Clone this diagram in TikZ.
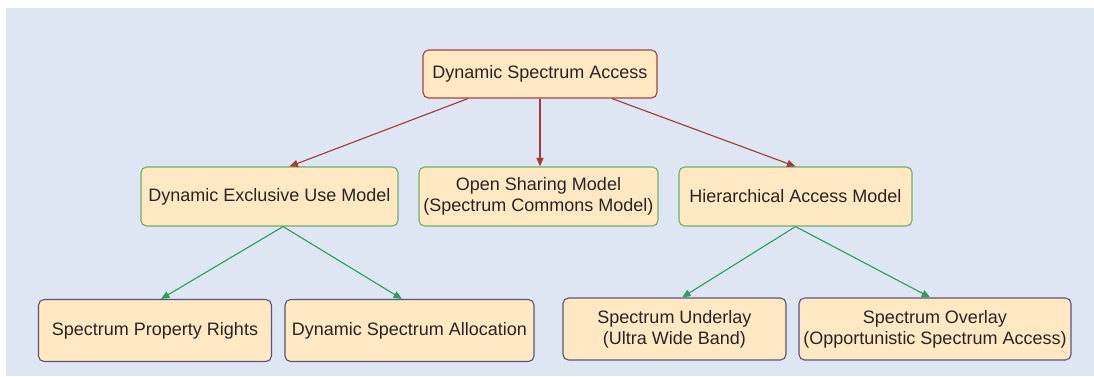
\documentclass[tikz,border=0pt]{standalone}
\usepackage{fontspec}
\setmainfont{Liberation Sans}
\usetikzlibrary{arrows.meta}
\definecolor{bgblue}{HTML}{DFE6F3}
\definecolor{boxfill}{HTML}{FFE8C2}
\definecolor{topred}{HTML}{A5443F}
\definecolor{midgreen}{HTML}{6FB06A}
\definecolor{lowblue}{HTML}{5A557E}
\definecolor{arrred}{HTML}{A33A38}
\definecolor{arrgreen}{HTML}{2E9E5B}
\begin{document}
\begin{tikzpicture}[x=0.025cm,y=-0.025cm,
	box/.style={rounded corners=4pt,fill=boxfill,line width=0.8pt,align=center,
		font=\fontsize{12.8}{15}\selectfont,inner sep=0pt,text=black!85},
	topbox/.style={box,draw=topred,minimum height=1.2cm},
	midbox/.style={box,draw=midgreen,minimum height=1.475cm},
	lowbox/.style={box,draw=lowblue,minimum height=1.55cm},
	redarr/.style={draw=arrred,line width=0.8pt,-{Triangle[length=6pt,width=5pt]}},
	greenarr/.style={draw=arrgreen,line width=0.8pt,-{Triangle[length=6pt,width=5pt]}}]
	\useasboundingbox (0,0) rectangle (1094,376);
	\fill[bgblue] (6,8) rectangle (1094,376);
	% top
	\node[topbox,minimum width=5.85cm] (dsa) at (540,74) {Dynamic Spectrum Access};
	% models
	\node[midbox,minimum width=6.425cm] (deum) at (269.5,196.5) {Dynamic Exclusive Use Model};
	\node[midbox,minimum width=5.975cm] (osm) at (538.5,196.5) {Open Sharing Model\\(Spectrum Commons Model)};
	\node[midbox,minimum width=5.825cm] (ham) at (795.5,196.5) {Hierarchical Access Model};
	% leaves
	\node[lowbox,minimum width=5.825cm] (spr) at (155,330.5) {Spectrum Property Rights};
	\node[lowbox,minimum width=6.225cm] (dsal) at (409.5,330.5) {Dynamic Spectrum Allocation};
	\node[lowbox,minimum width=5.575cm] (sul) at (674.5,329) {Spectrum Underlay\\(Ultra Wide Band)};
	\node[lowbox,minimum width=6.8cm] (sol) at (935,329) {Spectrum Overlay\\(Opportunistic Spectrum Access)};
	% arrows
	\draw[redarr] ([xshift=-1.8cm]dsa.south) -- ([xshift=0.5cm]deum.north);
	\draw[redarr] (dsa.south) -- (dsa.south |- osm.north);
	\draw[redarr] ([xshift=1.8cm]dsa.south) -- (ham.north);
	\draw[greenarr] ([xshift=0.34cm]deum.south) -- ([xshift=0.15cm]spr.north);
	\draw[greenarr] ([xshift=0.34cm]deum.south) -- ([xshift=-0.19cm]dsal.north);
	\draw[greenarr] (ham.south) -- ([xshift=0.19cm]sul.north);
	\draw[greenarr] (ham.south) -- ([xshift=-0.12cm]sol.north);
\end{tikzpicture}
\end{document}
